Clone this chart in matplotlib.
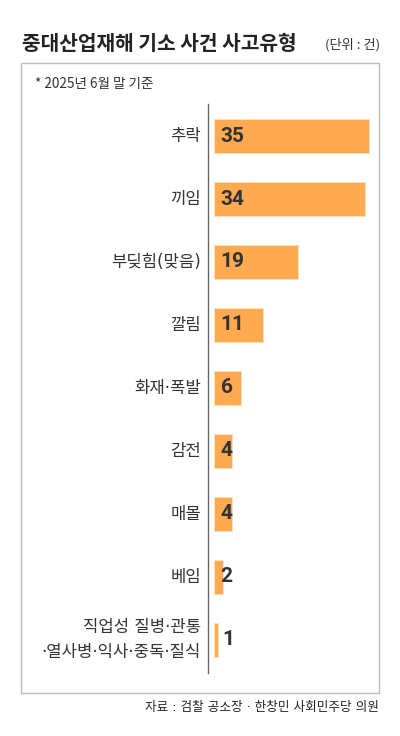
import matplotlib
matplotlib.use("Agg")
import matplotlib.pyplot as plt
from matplotlib.patches import Rectangle
from matplotlib.lines import Line2D

plt.rcParams['font.family'] = ['Noto Sans CJK KR', 'DejaVu Sans']

categories = ["추락", "끼임", "부딪힘(맞음)", "깔림", "화재·폭발", "감전", "매몰", "베임",
              "직업성 질병·관통\n·열사병·익사·중독·질식"]
values = [35, 34, 19, 11, 6, 4, 4, 2, 1]

title = "중대산업재해 기소 사건 사고유형"
unit = "(단위 : 건)"
note = "* 2025년 6월 말 기준"
source = "자료 : 검찰 공소장 · 한창민 사회민주당 의원"

W, H = 400, 736
fig = plt.figure(figsize=(W / 100, H / 100), dpi=100)
fig.patch.set_facecolor("white")

def fx(px):
    return px / W

def fy(py):
    return 1 - py / H

# frame box
fig.patches.append(Rectangle((fx(20.5), fy(693)), fx(379) - fx(20.5), fy(63) - fy(693),
                             transform=fig.transFigure, fill=False, edgecolor="#bbbbbb", lw=1.0))
# axis line
fig.lines.append(Line2D([fx(208), fx(208)], [fy(104), fy(673)], transform=fig.transFigure,
                        color="#666666", lw=1.0))

fig.text(fx(22), fy(44), title, fontsize=14.6, fontweight="bold", color="#222222",
         ha="left", va="center")
fig.text(fx(380), fy(45), unit, fontsize=9.5, color="#333333", ha="right", va="center")
fig.text(fx(35), fy(84), note, fontsize=9.8, color="#333333", ha="left", va="center")
fig.text(fx(379), fy(707), source, fontsize=9.1, color="#222222", ha="right", va="center",
         family=['DejaVu Sans', 'Noto Sans CJK KR'])

# bar axes
left_px, right_px = 214, 379
top_px, bot_px = 104, 673
ax = fig.add_axes([fx(left_px), fy(bot_px), fx(right_px) - fx(left_px), fy(top_px) - fy(bot_px)])
scale = 4.43
ax.set_xlim(0, (right_px - left_px) / scale)
ax.set_ylim(8.524, -0.508)
ax.axis("off")

ys = list(range(len(values)))
ax.barh(ys, values, height=0.54, color="#FFAA50", edgecolor="#FFE0C0", linewidth=0.6)
for y, v, c in zip(ys, values, categories):
    ax.text(1.5 if v > 1 else 1.9, y, str(v), fontsize=15, fontweight="bold", color="#333333",
            ha="left", va="center", family=['Roboto', 'DejaVu Sans'])
    ax.text(-13 / scale, y, c, fontsize=12, color="#333333", ha="right", va="center",
            linespacing=1.5, family=['DejaVu Sans', 'Noto Sans CJK KR'])

fig.savefig("out.png", dpi=100, facecolor="white")
